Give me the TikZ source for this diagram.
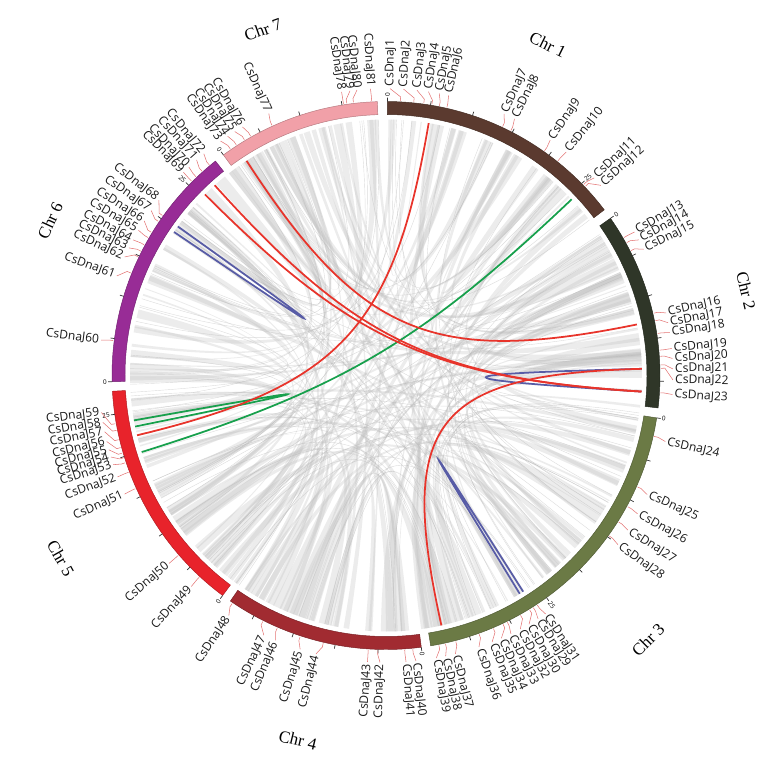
\documentclass[tikz,border=0pt]{standalone}
\usepackage{fontspec}
\setmainfont{Open Sans}
\newfontfamily\chrfont{Liberation Serif}
\usepackage{tikz}

\definecolor{chrone}{HTML}{5B3A2F}
\definecolor{chrtwo}{HTML}{2F3628}
\definecolor{chrthree}{HTML}{6B7A45}
\definecolor{chrfour}{HTML}{A12B31}
\definecolor{chrfive}{HTML}{E8232B}
\definecolor{chrsix}{HTML}{982C96}
\definecolor{chrseven}{HTML}{F1A0A8}
\definecolor{linkred}{HTML}{E8342B}
\definecolor{linkblue}{HTML}{585CA6}
\definecolor{linkgreen}{HTML}{17A04C}
\definecolor{geneline}{HTML}{E37373}

\tikzset{
  genelab/.style={inner sep=0pt, font=\fontsize{10.3}{12}\selectfont, text=black!90},
  genetick/.style={geneline, line width=0.45pt},
  tickmark/.style={black!80, line width=0.6pt},
  ticklab/.style={inner sep=0pt, font=\fontsize{5.5}{6}\selectfont},
  chrlab/.style={font=\chrfont\fontsize{14.5}{16}\selectfont},
  dup/.style={line width=1.5pt},
  syn/.style={black!25, opacity=0.3},
  synline/.style={black!30, opacity=0.45, line width=0.35pt}
}

\begin{document}
\begin{tikzpicture}[x=0.3mm, y=0.3mm]
	\useasboundingbox (-386,-386.5) rectangle (387,375.5);

	\pgfmathsetseed{4217}
	\foreach \i in {1,...,140}{
		\pgfmathsetmacro\pa{rnd*360}
		\pgfmathsetmacro\pb{\pa+0.2+rnd*1.8}
		\pgfmathsetmacro\qa{rnd*360}
		\pgfmathsetmacro\qb{\qa+0.2+rnd*1.8}
		\fill[syn] ({90-\pa}:256) .. controls ({90-\pa}:48) and ({90-\qb}:48) .. ({90-\qb}:256)
			arc[start angle=90-\qb, end angle=90-\qa, radius=256]
			.. controls ({90-\qa}:48) and ({90-\pb}:48) .. ({90-\pb}:256)
			arc[start angle=90-\pb, end angle=90-\pa, radius=256] -- cycle;
	}
	\foreach \i in {1,...,70}{
		\pgfmathsetmacro\pa{rnd*360}
		\pgfmathsetmacro\qa{rnd*360}
		\draw[synline] ({90-\pa}:256) .. controls ({90-\pa}:48) and ({90-\qa}:48) .. ({90-\qa}:256);
	}

	\foreach \a/\b/\c in {0.3/52.8/chrone, 55.0/96.8/chrtwo, 98.9/170.6/chrthree, 172.6/214.6/chrfour, 216.6/266.7/chrfive, 268.7/321.5/chrsix, 323.6/358.2/chrseven}
		\filldraw[fill=\c, draw=\c!75!black, line width=0.4pt] ({90-\a}:261) arc[start angle=90-\a, end angle=90-\b, radius=261]
			-- ({90-\b}:274) arc[start angle=90-\b, end angle=90-\a, radius=274] -- cycle;

	\foreach \a/\m in {0.3/5, 55.0/4, 98.9/7, 172.6/4, 216.6/5, 268.7/5, 323.6/3}
		\foreach \k in {0,...,\m}
			\draw[tickmark] ({90-\a-9.05*\k}:274) -- ({90-\a-9.05*\k}:278);

	\foreach \a [count=\i] in {0.3, 55.0, 98.9, 172.6}
		\node[ticklab, anchor=west, rotate=90-\a] (zero\i) at ({90-\a}:279) {0};
	\foreach \a [count=\i from 5] in {216.6, 268.7, 323.6}
		\node[ticklab, anchor=east, rotate=270-\a] (zero\i) at ({90-\a}:279) {0};
	\foreach \a [count=\i] in {45.55, 144.15}
		\node[ticklab, anchor=west, rotate=90-\a] (tf\i) at ({90-\a}:279) {25};
	\foreach \a [count=\i from 3] in {261.85, 313.95}
		\node[ticklab, anchor=east, rotate=270-\a] (tf\i) at ({90-\a}:279) {25};

	\foreach \n/\g/\l in {1/3.0/0.8, 2/5.8/3.5, 3/7.9/6.2, 4/9.6/8.5, 5/11.2/10.7, 6/12.8/12.6,
		7/25.1/24.3, 8/27.0/26.6, 9/35.2/34.9, 10/38.7/38.9, 11/46.0/46.5, 12/46.5/48.5,
		13/59.9/60.0, 14/61.1/61.8, 15/63.0/63.9, 16/76.9/77.4, 17/78.5/79.4, 18/81.2/81.4,
		19/84.7/84.6, 20/86.0/86.6, 21/87.8/88.7, 22/88.5/90.9, 23/93.6/93.8, 24/102.8/103.3,
		25/113.9/114.5, 26/118.5/118.8, 27/122.2/122.6, 28/125.7/126.1, 29/147.6/148.0,
		30/148.5/150.1, 31/146.6/146.2, 32/150.7/152.1, 33/153.8/154.2, 34/154.8/156.3,
		35/157.0/158.3, 36/160.2/161.1, 37/165.3/166.0, 38/167.5/168.0, 39/168.9/169.9,
		40/174.4/174.0, 41/176.1/176.0, 42/181.7/181.2, 43/183.7/183.7, 44/193.2/194.1,
		45/198.2/197.4, 46/203.3/202.6, 47/206.6/205.2, 48/214.0/213.2, 49/222.8/222.7,
		50/229.1/229.1, 51/245.7/245.6, 52/249.4/249.3, 53/251.5/251.9, 54/252.6/253.5,
		55/253.6/255.0, 56/254.8/256.7, 57/256.5/258.7, 58/258.5/260.6, 59/259.9/262.6,
		60/277.3/277.1, 61/291.9/290.3, 62/295.6/294.4, 63/296.9/296.4, 64/298.4/298.2,
		65/300.1/300.4, 66/301.4/302.6, 67/304.1/305.1, 68/305.6/307.7, 69/315.0/315.1,
		70/316.3/316.6, 71/318.0/318.7, 72/320.0/320.6, 73/325.5/324.8, 74/327.0/326.5,
		75/329.0/328.2, 76/330.5/330.0, 77/335.5/335.9, 78/351.1/351.1, 79/351.8/352.8,
		80/353.2/354.2, 81/357.0/356.9}{
		\coordinate (g\n) at ({90-\g}:256);
		\coordinate (c\n) at ({90-\g}:48);
		\draw[genetick] ({90-\g}:275) -- ({90-\g}:279) -- ({90-\l}:287);
		\ifdim \l pt<180pt
			\node[genelab, anchor=west, rotate=90-\l] (J\n) at ({90-\l}:289) {CsDnaJ\n};
		\else
			\node[genelab, anchor=east, rotate=270-\l] (J\n) at ({90-\l}:289) {CsDnaJ\n};
		\fi
	}

	\draw[dup, linkblue] (g67) .. controls (c67) and (c68) .. (g68);
	\draw[dup, linkblue] (g29) .. controls (c29) and (c30) .. (g30);
	\draw[dup, linkblue] (g22) .. controls (c22) and (c23) .. (g23);
	\draw[dup, linkgreen] (g12) .. controls (c12) and (c54) .. (g54);
	\draw[dup, linkgreen] (g58) .. controls (c58) and (c59) .. (g59);
	\draw[dup, linkred] (g4) .. controls (c4) and (c57) .. (g57);
	\draw[dup, linkred] (g74) .. controls (c74) and (c17) .. (g17);
	\draw[dup, linkred] (g71) .. controls (c71) and (c23) .. (g23);
	\draw[dup, linkred] (g69) .. controls (c69) and (c23) .. (g23);
	\draw[dup, linkred] (g38) .. controls (c38) and (c22) .. (g22);

	\node[chrlab, rotate=-26.1] (chr1) at ({90-26.1}:368) {Chr 1};
	\node[chrlab, rotate=-76.7] (chr2) at ({90-76.7}:370) {Chr 2};
	\node[chrlab, rotate=44.8] (chr3) at ({90-135.2}:372) {Chr 3};
	\node[chrlab, rotate=-13.6] (chr4) at ({90-193.6}:375) {Chr 4};
	\node[chrlab, rotate=-60.7] (chr5) at ({90-240.7}:373) {Chr 5};
	\node[chrlab, rotate=65.2] (chr6) at ({90-294.8}:370) {Chr 6};
	\node[chrlab, rotate=19.6] (chr7) at ({90-340.4}:367) {Chr 7};
\end{tikzpicture}
\end{document}
